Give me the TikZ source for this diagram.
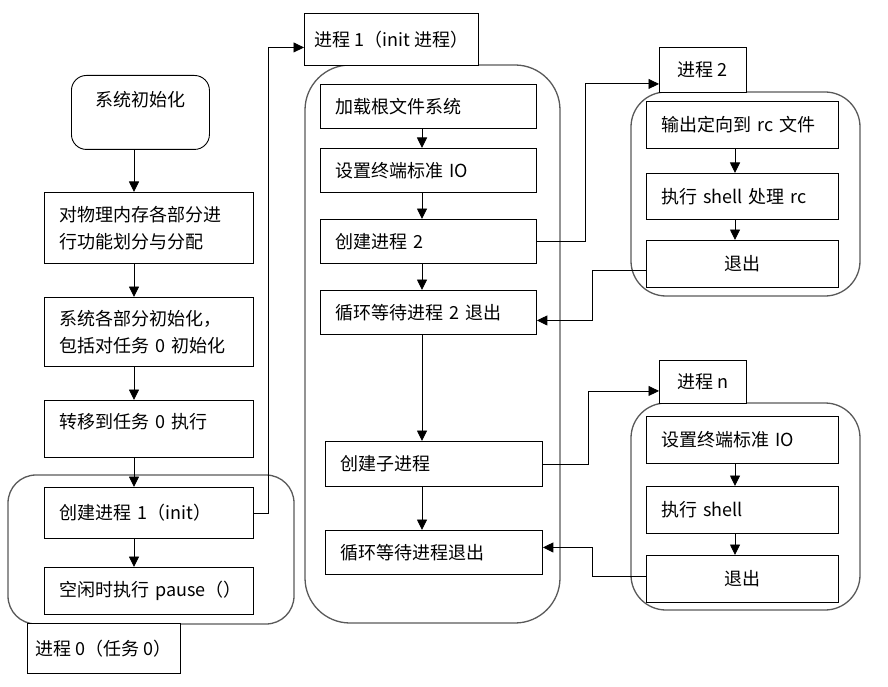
\documentclass[tikz,border=0pt]{standalone}
\usepackage{fontspec}
\setmainfont{Noto Sans CJK SC}
\usetikzlibrary{arrows.meta}

\begin{document}
\begin{tikzpicture}[x=1pt, y=-1pt,
                font=\fontsize{18}{27}\selectfont,
                start/.style={draw, line width=0.9pt, rounded corners=15pt,
                    anchor=north west, inner ysep=0pt,
                    minimum width=138pt, minimum height=74pt,
                    text height=14pt, text depth=26pt},
                box/.style n args={2}{draw, line width=0.9pt, rectangle,
                    anchor=north west, inner xsep=15pt, inner ysep=0pt,
                    text width=#1pt, minimum height=#2pt, align=left},
                tag/.style n args={2}{draw, line width=0.9pt, fill=white,
                    anchor=north west, inner sep=4pt,
                    minimum width=#1pt, minimum height=#2pt},
                grp/.style={draw=black!65, line width=1.3pt, rounded corners=#1pt},
                arr/.style={-{Triangle[length=10.5pt,width=10pt]}, line width=0.9pt}]
    \useasboundingbox (0,0) rectangle (888,687);

    % process 0
    \draw[grp=28] (8,475) rectangle (294,624);
    \node[start] (s0) at (71,75) {系统初始化};
    \node[box={179}{71}] (s1) at (44,192) {对物理内存各部分进\\行功能划分与分配};
    \node[box={179}{69}] (s2) at (44,297) {系统各部分初始化，\\包括对任务~0~初始化};
    \node[box={179}{57}, text height=14pt, text depth=14pt] (s3) at (44,400) {转移到任务~0~执行};
    \node[box={179}{51}] (s4) at (44,487) {创建进程~1（init）};
    \node[box={179}{47}] (s5) at (44,567) {空闲时执行~pause（）};
    \node[tag={153}{50}] (t0) at (27,623) {进程~0（任务~0）};

    % process 1
    \draw[grp=45] (305,65) rectangle (560,623);
    \node[tag={174}{52}] (t1) at (304,13) {进程~1（init~进程）};
    \node[box={186}{44}] (m1) at (320,84) {加载根文件系统};
    \node[box={186}{44}] (m2) at (320,148) {设置终端标准~IO};
    \node[box={186}{44}] (m3) at (320,219) {创建进程~2};
    \node[box={186}{44}] (m4) at (320,290) {循环等待进程~2~退出};
    \node[box={187}{45}] (m5) at (325,441) {创建子进程};
    \node[box={187}{44}] (m6) at (325,530) {循环等待进程退出};

    % process 2
    \draw[grp=35] (631,92) rectangle (860,296);
    \node[tag={87}{45}] (t2) at (659,47) {进程~2};
    \node[box={162}{47}] (a1) at (646,101) {输出定向到~rc~文件};
    \node[box={162}{46}] (a2) at (646,173) {执行~shell~处理~rc};
    \node[box={162}{47}, align=center] (a3) at (646,240) {退出};

    % process n
    \draw[grp=35] (631,403) rectangle (860,610);
    \node[tag={87}{43}] (tn) at (659,360) {进程~n};
    \node[box={162}{47}] (b1) at (646,416) {设置终端标准~IO};
    \node[box={162}{47}] (b2) at (646,486) {执行~shell};
    \node[box={162}{47}, align=center] (b3) at (646,555) {退出};

    % arrows
    \coordinate (colL) at (134,0);
    \coordinate (colM) at (422,0);
    \coordinate (colR) at (735,0);
    \foreach \a/\b in {s0/s1,s1/s2,s2/s3,s3/s4,s4/s5}
        \draw[arr] (\a.south -| colL) -- (\b.north -| colL);
    \foreach \a/\b in {m1/m2,m2/m3,m3/m4,m4/m5,m5/m6}
        \draw[arr] (\a.south -| colM) -- (\b.north -| colM);
    \foreach \a/\b in {a1/a2,a2/a3,b1/b2,b2/b3}
        \draw[arr] (\a.south -| colR) -- (\b.north -| colR);

    \draw[arr] (s4.east) -- ++(15,0) |- ([yshift=-8pt]t1.west);
    \draw[arr] (m3.east) -- ++(49,0) |- ([yshift=-14pt]t2.west);
    \draw[arr] ([yshift=-6pt]a3.west) -- ++(-54,0) |- ([yshift=-8pt]m4.east);
    \draw[arr] (m5.east) -- ++(46,0) |- ([yshift=-9pt]tn.west);
    \draw[arr] ([yshift=3pt]b3.west) -- ++(-54,0) |- ([yshift=5pt]m6.east);
\end{tikzpicture}
\end{document}
